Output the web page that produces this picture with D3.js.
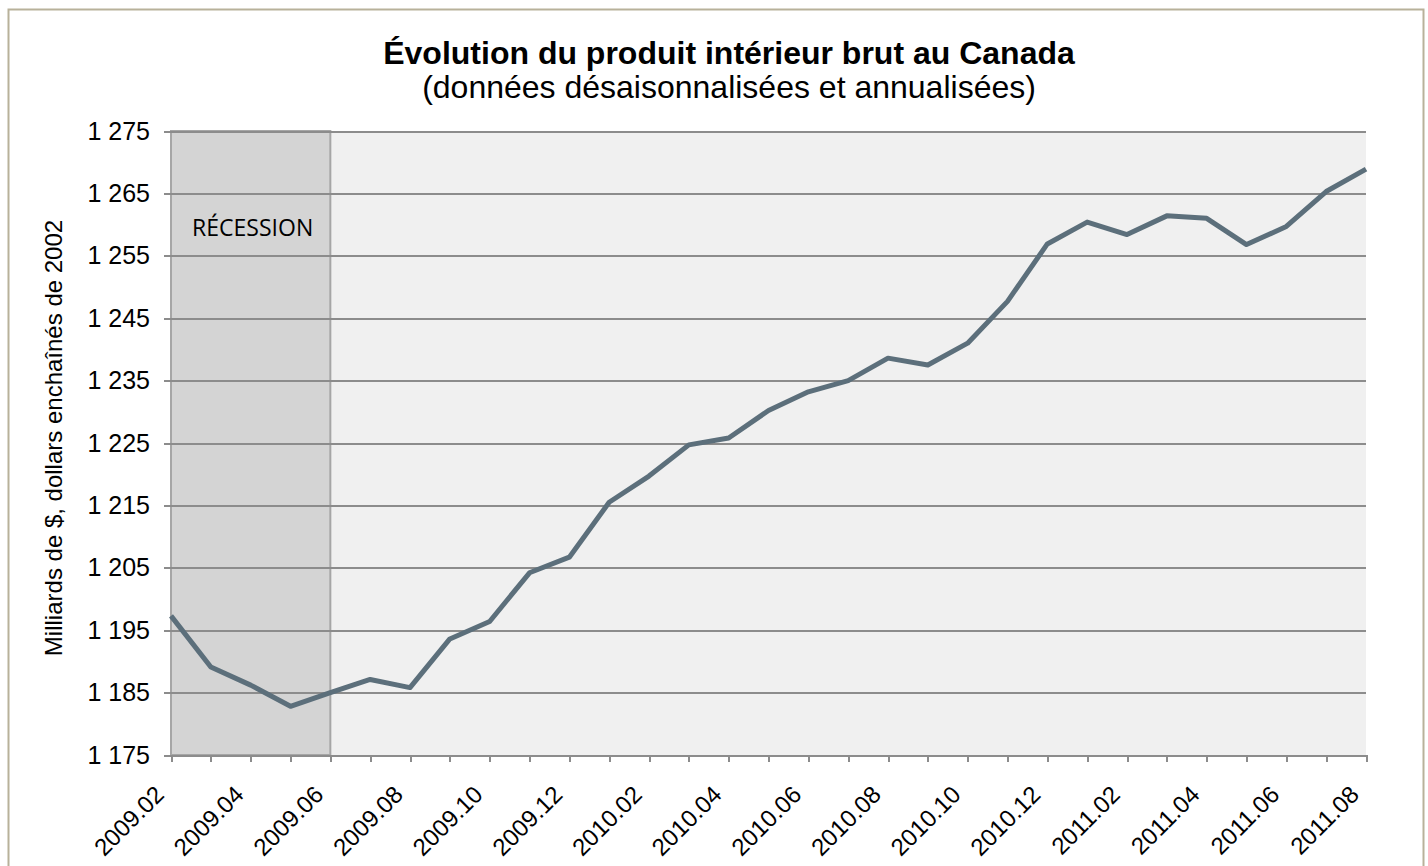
<!doctype html>
<html>
  <head>
    <meta charset="utf-8">
    <script src="https://cdn.jsdelivr.net/npm/d3@7"></script>
    <style>
      body { margin: 0; background: #fff; }
      text { font-family: Arial, "Liberation Sans", sans-serif; }
      .grid line { stroke: #8c8c8c; stroke-width: 2; shape-rendering: crispEdges; }
      .grid path { stroke-width: 0; }
      .axis path, .axis line { stroke: #8c8c8c; stroke-width: 2; shape-rendering: crispEdges; }
    </style>
  </head>
  <body>
    <script>
    // months shown on the x axis (monthly, 2009.02 -> 2011.08)
    var months = ['2009.02','2009.03','2009.04','2009.05','2009.06','2009.07','2009.08',
                  '2009.09','2009.10','2009.11','2009.12','2010.01','2010.02','2010.03',
                  '2010.04','2010.05','2010.06','2010.07','2010.08','2010.09','2010.10',
                  '2010.11','2010.12','2011.01','2011.02','2011.03','2011.04','2011.05',
                  '2011.06','2011.07','2011.08'];

    // GDP, billions of chained 2002 dollars
    var gdp = [1197.3, 1189.1, 1186.2, 1182.8, 1185.0, 1187.1, 1185.8,
               1193.6, 1196.4, 1204.2, 1206.7, 1215.5, 1219.7, 1224.7,
               1225.8, 1230.2, 1233.2, 1235.0, 1238.6, 1237.5, 1241.0,
               1247.7, 1256.9, 1260.4, 1258.4, 1261.4, 1261.0, 1256.8,
               1259.7, 1265.3, 1268.9];

    var yTicks = [1175, 1185, 1195, 1205, 1215, 1225, 1235, 1245, 1255, 1265, 1275];
    var recession = ['2009.02', '2009.06'];

    var width = 1428;
    var height = 866;

    var margin = { top: 131, right: 62, bottom: 111, left: 171 };
    var innerWidth = width - margin.left - margin.right;
    var innerHeight = height - margin.top - margin.bottom;

    var svg = d3.select('body')
              .append('svg')
              .attr('width', width)
              .attr('height', height);

    // outer frame
    svg.append('rect')
      .attr('x', 8.5)
      .attr('y', 9.5)
      .attr('width', 1415)
      .attr('height', 900)
      .attr('fill', '#fff')
      .attr('stroke', '#b8b19a')
      .attr('stroke-width', 2);

    var g = svg.append('g')
            .attr('transform', 'translate(' + margin.left + ',' + margin.top + ')');

    var x = d3.scalePoint()
              .domain(months)
              .range([0, innerWidth]);

    var y = d3.scaleLinear()
              .domain([1175, 1275])
              .range([innerHeight, 0]);

    // plot background
    g.append('rect')
      .attr('width', innerWidth)
      .attr('height', innerHeight)
      .attr('fill', '#f0f0f0');

    // recession band
    g.append('rect')
      .attr('x', x(recession[0]))
      .attr('y', 0)
      .attr('width', x(recession[1]) - x(recession[0]))
      .attr('height', innerHeight)
      .attr('fill', '#d4d4d4')
      .attr('stroke', '#a6a6a6')
      .attr('stroke-width', 2);

    // gridlines
    g.append('g')
      .attr('class', 'grid')
      .call(d3.axisLeft(y)
        .tickValues(yTicks)
        .tickSize(-innerWidth)
        .tickFormat(''));

    g.append('text')
      .attr('x', (x(recession[0]) + x(recession[1])) / 2 + 2)
      .attr('y', 105)
      .attr('text-anchor', 'middle')
      .style('font-family', '"Open Sans", sans-serif')
      .style('font-size', '23px')
      .attr('fill', '#000')
      .text('RÉCESSION');

    // y axis
    var yAxis = g.append('g')
      .attr('class', 'axis')
      .call(d3.axisLeft(y)
        .tickValues(yTicks)
        .tickSize(7)
        .tickPadding(14)
        .tickFormat(function(d) { return d3.format(',')(d).replace(',', ' '); }));
    yAxis.select('.domain').remove();
    yAxis.selectAll('text')
      .style('font-size', '25px')
      .attr('fill', '#000');

    // x axis
    var xAxis = g.append('g')
      .attr('class', 'axis')
      .attr('transform', 'translate(0,' + innerHeight + ')')
      .call(d3.axisBottom(x)
        .tickSize(7)
        .tickSizeOuter(0)
        .tickFormat(function(d, i) { return i % 2 === 0 ? d : ''; }));
    xAxis.selectAll('text')
      .style('font-size', '24px')
      .attr('fill', '#000')
      .attr('text-anchor', 'end')
      .attr('dominant-baseline', 'central')
      .attr('dy', null)
      .attr('y', null)
      .attr('transform', 'translate(-12,35) rotate(-45)');

    // data line
    var line = d3.line()
            .x(function(d, i) { return x(months[i]); })
            .y(function(d) { return y(d); });

    g.append('path')
      .datum(gdp)
      .attr('fill', 'none')
      .attr('stroke', '#5c6f7b')
      .attr('stroke-width', 5)
      .attr('stroke-linejoin', 'round')
      .attr('d', line);

    // titles
    svg.append('text')
      .attr('x', 729)
      .attr('y', 64)
      .attr('text-anchor', 'middle')
      .style('font-size', '32px')
      .attr('font-weight', 'bold')
      .text('Évolution du produit intérieur brut au Canada');

    svg.append('text')
      .attr('x', 729)
      .attr('y', 98)
      .attr('text-anchor', 'middle')
      .style('font-size', '32px')
      .text('(données désaisonnalisées et annualisées)');

    svg.append('text')
      .attr('transform', 'translate(62,438) rotate(-90)')
      .attr('text-anchor', 'middle')
      .style('font-size', '24px')
      .text('Milliards de $, dollars enchaînés de 2002');
    </script>
  </body>
</html>
